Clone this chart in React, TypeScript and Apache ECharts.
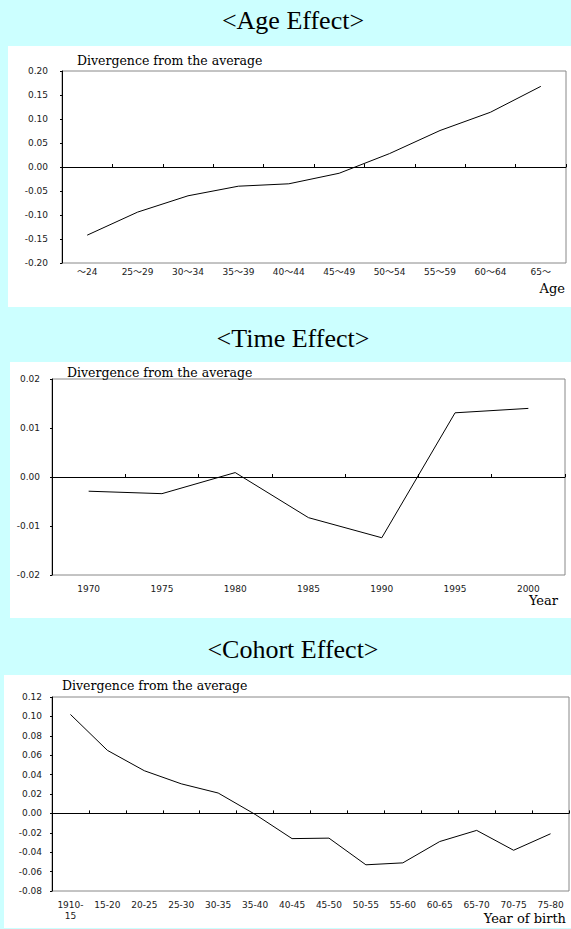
import React, { useEffect, useRef } from "react";
import * as echarts from "echarts";

const ageCategories = ["～24", "25～29", "30～34", "35～39", "40～44", "45～49", "50～54", "55～59", "60～64", "65～"];
const ageValues = [-0.142, -0.094, -0.06, -0.04, -0.035, -0.013, 0.028, 0.076, 0.114, 0.168];

const timeCategories = ["1970", "1975", "1980", "1985", "1990", "1995", "2000"];
const timeValues = [-0.0029, -0.0034, 0.0009, -0.0083, -0.0124, 0.0131, 0.014];

const cohortCategories = ["1910-\n15", "15-20", "20-25", "25-30", "30-35", "35-40", "40-45", "45-50", "50-55", "55-60", "60-65", "65-70", "70-75", "75-80"];
const cohortValues = [0.102, 0.065, 0.044, 0.0305, 0.021, -0.001, -0.026, -0.0255, -0.053, -0.051, -0.029, -0.0175, -0.038, -0.021];

const titles = ["<Age Effect>", "<Time Effect>", "<Cohort Effect>"];
const yLabel = "Divergence from the average";
const xNames = ["Age", "Year", "Year of birth"];

const ageY = { min: -0.2, max: 0.2, interval: 0.05 };
const timeY = { min: -0.02, max: 0.02, interval: 0.01 };
const cohortY = { min: -0.08, max: 0.12, interval: 0.02 };

export default function App() {
  const ref = useRef<HTMLDivElement>(null);
  useEffect(() => {
    if (!ref.current) return;
    const chart = echarts.init(ref.current, undefined, { renderer: "svg" });
    const tickFont = { fontFamily: "'DejaVu Sans', 'Noto Sans CJK JP'", fontSize: 9, color: "#1a1a1a" };
    const grids = [
      { left: 62, top: 71, width: 504, height: 192 },
      { left: 52, top: 379, width: 513, height: 196 },
      { left: 52, top: 697, width: 517, height: 194 },
    ];
    const cats = [ageCategories, timeCategories, cohortCategories];
    const vals = [ageValues, timeValues, cohortValues];
    const yr = [ageY, timeY, cohortY];
    const xLabelMargins = [3, 8, 8];
    const yLabelMargins = [14, 12, 10];
    const xAxis: any[] = [];
    const yAxis: any[] = [];
    const series: any[] = [];
    grids.forEach((g, i) => {
      xAxis.push({
        type: "category",
        gridIndex: i,
        data: cats[i],
        position: "bottom",
        boundaryGap: true,
        axisLine: { show: false, onZero: false },
        axisTick: { show: false },
        axisLabel: { ...tickFont, margin: xLabelMargins[i], interval: 0, lineHeight: 11 },
        splitLine: { show: false },
      });
      xAxis.push({
        type: "category",
        gridIndex: i,
        data: cats[i],
        position: "bottom",
        boundaryGap: true,
        axisLine: { show: true, onZero: true, lineStyle: { color: "#000", width: 1 } },
        axisTick: { show: true, inside: true, length: 3, interval: 0, lineStyle: { color: "#000" } },
        axisLabel: { show: false },
        splitLine: { show: false },
      });
      yAxis.push({
        type: "value",
        gridIndex: i,
        min: yr[i].min,
        max: yr[i].max,
        interval: yr[i].interval,
        axisLine: { show: true, lineStyle: { color: "#000", width: 1 } },
        axisTick: { show: true, length: 2, lineStyle: { color: "#000" } },
        axisLabel: {
          ...tickFont,
          margin: yLabelMargins[i],
          formatter: (v: number) => v.toFixed(2),
        },
        splitLine: { show: false },
      });
      series.push({
        type: "line",
        xAxisIndex: i * 2,
        yAxisIndex: i,
        data: vals[i],
        symbol: "none",
        lineStyle: { color: "#000", width: 1 },
        silent: true,
      });
    });

    const panels = [
      { x: 8, y: 46, w: 563, h: 261 },
      { x: 10, y: 362, w: 561, h: 256 },
      { x: 4, y: 675, w: 567, h: 253 },
    ];
    const titleY = [20, 338, 649];
    const divPos = [
      [77, 60],
      [67, 372],
      [62, 685],
    ];
    const namePos = [
      [565, 288],
      [558, 600],
      [566, 918],
    ];
    const graphic: any[] = [];
    panels.forEach((p, i) => {
      graphic.push({
        type: "rect",
        z: -10,
        silent: true,
        shape: { x: p.x, y: p.y, width: p.w, height: p.h },
        style: { fill: "#ffffff" },
      });
      graphic.push({
        type: "text",
        z: 10,
        x: 293,
        y: titleY[i],
        style: {
          text: titles[i],
          fontFamily: "Liberation Serif",
          fontSize: 26,
          fill: "#000",
          align: "center",
          verticalAlign: "middle",
        },
      });
      graphic.push({
        type: "text",
        z: 10,
        x: divPos[i][0],
        y: divPos[i][1],
        style: {
          text: yLabel,
          fontFamily: "DejaVu Serif",
          fontSize: 12.5,
          fill: "#000",
          align: "left",
          verticalAlign: "middle",
        },
      });
      graphic.push({
        type: "text",
        z: 10,
        x: namePos[i][0],
        y: namePos[i][1],
        style: {
          text: xNames[i],
          fontFamily: "DejaVu Serif",
          fontSize: 13,
          fill: "#000",
          align: "right",
          verticalAlign: "middle",
        },
      });
    });

    chart.setOption({
      animation: false,
      backgroundColor: "#ccffff",
      grid: grids.map((g) => ({
        ...g,
        show: true,
        backgroundColor: "#ffffff",
        borderColor: "#888",
        borderWidth: 1,
      })),
      xAxis,
      yAxis,
      series,
      graphic,
    });
    return () => chart.dispose();
  }, []);
  return <div ref={ref} style={{ position: "absolute", left: 0, top: 0, width: 571, height: 929 }} />;
}
